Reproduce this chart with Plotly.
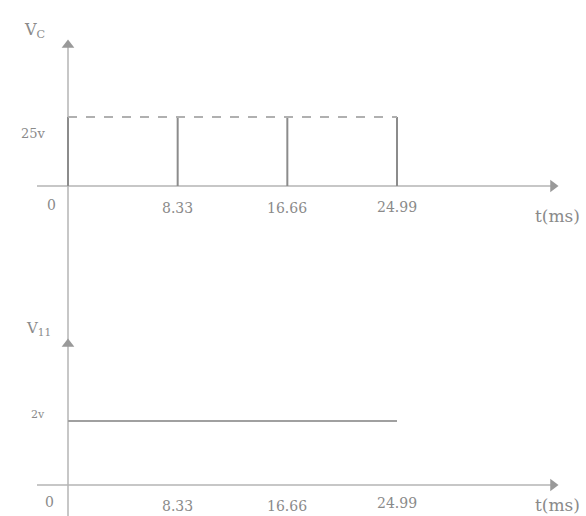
import plotly.graph_objects as go

# ---- data ----
pulse_times = [0, 8.33, 16.66, 24.99]          # ms, pulse instants of Vc
pulse_level = 25                                # V
tick_labels = ["0", "8.33", "16.66", "24.99"]
vd_level = 2                                    # V, lower trace level
vd_start, vd_end = 0, 24.99

W, H = 586, 516
# pixel mapping helpers (layout only)
X0PX, PXPERMS = 68, 329 / 24.99
x_range = [-X0PX / PXPERMS, (W - X0PX) / PXPERMS]
top_dom = [1 - 250 / H, 1]
bot_dom = [0, 266 / H]
top_y0px, top_scale = 186, 69 / 25
bot_y0px, bot_scale = 485 - 250, 32
top_range = [-(250 - top_y0px) / top_scale, top_y0px / top_scale]
bot_range = [-(266 - bot_y0px) / bot_scale, bot_y0px / bot_scale]

def tv(px):
    return (top_y0px - px) / top_scale

def bv(px):
    return (485 - px) / bot_scale

def tt(px):
    return (px - X0PX) / PXPERMS

axis_col = "#b4b4b4"
line_col = "#8c8c8c"
txt_col = "#8a8a8a"
font = dict(family="DejaVu Serif", size=14, color=txt_col)

fig = go.Figure()

# --- top panel ---
fig.add_trace(go.Scatter(x=[tt(37), tt(552)], y=[0, 0], mode="lines",
                         line=dict(color=axis_col, width=1.5), xaxis="x", yaxis="y"))
fig.add_trace(go.Scatter(x=[0, 0], y=[top_range[0], tv(46)], mode="lines",
                         line=dict(color=axis_col, width=1.5), xaxis="x", yaxis="y"))
fig.add_trace(go.Scatter(x=[tt(553)], y=[0], mode="markers",
                         marker=dict(symbol="triangle-right", size=11, color="#999999"),
                         xaxis="x", yaxis="y", cliponaxis=False))
fig.add_trace(go.Scatter(x=[0], y=[tv(45)], mode="markers",
                         marker=dict(symbol="triangle-up", size=11, color="#999999"),
                         xaxis="x", yaxis="y", cliponaxis=False))
px_, py_ = [], []
for t in pulse_times:
    px_ += [t, t, None]
    py_ += [0, pulse_level, None]
fig.add_trace(go.Scatter(x=px_, y=py_, mode="lines",
                         line=dict(color=line_col, width=2), xaxis="x", yaxis="y"))
fig.add_trace(go.Scatter(x=[pulse_times[0], pulse_times[-1]], y=[pulse_level, pulse_level],
                         mode="lines", line=dict(color="#b0b0b0", width=2, dash="dash"),
                         xaxis="x", yaxis="y"))

# --- bottom panel ---
fig.add_trace(go.Scatter(x=[tt(37), tt(552)], y=[0, 0], mode="lines",
                         line=dict(color=axis_col, width=1.5), xaxis="x2", yaxis="y2"))
fig.add_trace(go.Scatter(x=[0, 0], y=[bot_range[0], bot_range[1]], mode="lines",
                         line=dict(color=axis_col, width=1.5), xaxis="x2", yaxis="y2"))
fig.add_trace(go.Scatter(x=[tt(553)], y=[0], mode="markers",
                         marker=dict(symbol="triangle-right", size=11, color="#999999"),
                         xaxis="x2", yaxis="y2", cliponaxis=False))
fig.add_trace(go.Scatter(x=[0], y=[bv(344)], mode="markers",
                         marker=dict(symbol="triangle-up", size=11, color="#999999"),
                         xaxis="x2", yaxis="y2", cliponaxis=False))
fig.add_trace(go.Scatter(x=[vd_start, vd_end], y=[vd_level, vd_level], mode="lines",
                         line=dict(color="#a0a0a0", width=2), xaxis="x2", yaxis="y2"))

ann = []
tx = [tt(51), 8.33, 16.66, 24.99]
ty = [205, 208, 208, 207]
for t, lab, yy in zip(tx, tick_labels, ty):
    ann.append(dict(x=t, y=tv(yy), xref="x", yref="y", text=lab, showarrow=False, font=font))
ann.append(dict(x=tt(557), y=tv(216), xref="x", yref="y", text="t(ms)", showarrow=False,
                font=dict(family="DejaVu Serif", size=17, color=txt_col)))
ann.append(dict(x=tt(34), y=tv(30), xref="x", yref="y", text="V<sub>C</sub>", showarrow=False,
                font=dict(family="DejaVu Serif", size=16, color=txt_col)))
ann.append(dict(x=tt(33), y=tv(133), xref="x", yref="y", text="25v", showarrow=False,
                font=dict(family="DejaVu Serif", size=13, color=txt_col)))
bx = [tt(49), 8.33, 16.66, 24.99]
by = [502, 506, 506, 503]
for t, lab, yy in zip(bx, tick_labels, by):
    ann.append(dict(x=t, y=bv(yy), xref="x2", yref="y2", text=lab, showarrow=False, font=font))
ann.append(dict(x=tt(557), y=bv(505), xref="x2", yref="y2", text="t(ms)", showarrow=False,
                font=dict(family="DejaVu Serif", size=17, color=txt_col)))
ann.append(dict(x=tt(38), y=bv(328), xref="x2", yref="y2", text="V<sub>11</sub>", showarrow=False,
                font=dict(family="DejaVu Serif", size=15, color=txt_col)))
ann.append(dict(x=tt(38), y=bv(414), xref="x2", yref="y2", text="2v", showarrow=False,
                font=dict(family="DejaVu Serif", size=11, color=txt_col)))

hidden = dict(visible=False, showgrid=False, zeroline=False, fixedrange=True)
fig.update_layout(
    width=W, height=H, margin=dict(l=0, r=0, t=0, b=0),
    paper_bgcolor="white", plot_bgcolor="white", showlegend=False,
    xaxis=dict(domain=[0, 1], range=x_range, anchor="y", **hidden),
    yaxis=dict(domain=top_dom, range=top_range, anchor="x", **hidden),
    xaxis2=dict(domain=[0, 1], range=x_range, anchor="y2", **hidden),
    yaxis2=dict(domain=bot_dom, range=bot_range, anchor="x2", **hidden),
    annotations=ann,
)
fig.write_html("out.html", config={"displayModeBar": False},
               post_script="document.body.style.margin='0';document.body.style.overflow='hidden';")
